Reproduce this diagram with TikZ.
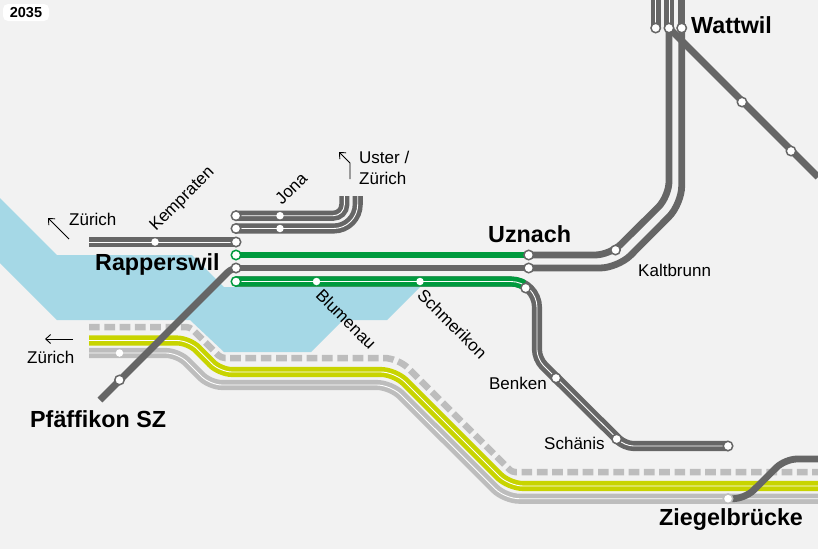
\documentclass[tikz,border=0pt]{standalone}
\usepackage{fontspec}
\setmainfont{Liberation Sans}
\usetikzlibrary{arrows.meta,backgrounds}
\definecolor{mapBack}{HTML}{F2F2F2}
\definecolor{mapLake}{HTML}{A5D8E6}
\definecolor{mapDark}{HTML}{666666}
\definecolor{mapLight}{HTML}{BDBDBD}
\definecolor{mapGreen}{HTML}{009A3E}
\definecolor{mapYellow}{HTML}{C8D400}

\begin{document}
\begin{tikzpicture}[
  x=1pt, y=-1pt,
  solidline/.style={draw=#1, line width=6.8pt},
  twinline/.style={draw=#1, double=white, line width=4.6pt, double distance=0.9pt},
  dashline/.style={draw=mapLight, line width=6.5pt, dash pattern=on 10.7pt off 4.6pt},
  halt/.style={circle, fill=white, draw=#1, line width=1.5pt, minimum size=9.5pt, inner sep=0pt},
  halt/.default=mapDark,
  stop/.style={circle, fill=white, minimum size=7.5pt, inner sep=0pt},
  town/.style={font=\fontsize{23.3}{25}\selectfont\bfseries, inner sep=0pt},
  place/.style={font=\fontsize{17}{21}\selectfont, inner sep=0pt, align=left},
  hint/.style={-{Straight Barb[length=5pt,width=9pt]}, line width=0.9pt, black},
]
\useasboundingbox (0,0) rectangle (818,549);

% === Year tag ===
\node[fill=white, rounded corners=5pt, minimum width=46pt, minimum height=17pt, inner sep=0pt,
  font=\fontsize{14.5}{15}\selectfont\bfseries] (year) at (26,12.5) {2035};

% === Stations ===
\node[halt] (kemprEnd) at (236,242) {};
\node[stop] (kempr) at (155,242) {};
\node[halt] (jonaA) at (236,215.7) {};
\node[stop] (jonaAm) at (280,215.7) {};
\node[halt] (jonaB) at (236,228.5) {};
\node[stop] (jonaBm) at (280,228.5) {};
\node[halt=mapGreen] (rapA) at (236,255) {};
\node[halt] (rapB) at (236,268) {};
\node[halt=mapGreen] (rapC) at (236,281.5) {};
\node[stop] (blume) at (316.5,281.5) {};
\node[stop] (schme) at (420,281.5) {};
\node[halt] (uzA) at (528.7,255) {};
\node[halt] (uzB) at (528.7,268) {};
\node[halt] (uzC) at (525.7,288) {};
\node[halt] (kalt) at (615.5,250) {};
\node[halt] (watA) at (655.7,28) {};
\node[halt] (watB) at (669,28) {};
\node[halt] (watC) at (681.7,28) {};
\node[halt] (ebnat) at (742,102) {};
\node[halt] (ulis) at (791,151) {};
\node[halt] (benken) at (556,378) {};
\node[halt] (schaen) at (616.7,439) {};
\node[halt] (schaenEnd) at (728,446) {};
\node[halt] (pfaef) at (119.5,380) {};
\node[stop] (lachen) at (119.5,353) {};
\node[halt=mapLight] (ziegel) at (728,498.7) {};

% === Lake and lines, behind the stations ===
\begin{scope}[on background layer]
  \fill[mapBack] (0,0) rectangle (818,549);
  \fill[mapLake] (0,198) -- (57,255) -- (192,255) -- (224,287) -- (420,287) -- (387,320)
    -- (343,320) -- (311,352) -- (224,352) -- (190,320) -- (57,320) -- (0,263) -- cycle;

  % north side of Rapperswil
  \draw[twinline=mapDark] (89,242) -- (kemprEnd.center);
  \draw[twinline=mapDark, rounded corners=11pt] (jonaA.center) -- (344.3,215.7) -- (344.3,196);
  \draw[twinline=mapDark, rounded corners=24pt] (jonaB.center) -- (357.7,228.5) -- (357.7,196);

  % Rapperswil to Uznach and on to Wattwil
  \draw[solidline=mapGreen] (rapA.center) -- (uzA.center);
  \draw[solidline=mapDark] (rapB.center) -- (uzB.center);
  \draw[solidline=mapDark, rounded corners=15pt] (uzA.center) -- (610,255) -- (669,196.5) -- (watB.center);
  \draw[solidline=mapDark, rounded corners=18pt] (uzB.center) -- (618,268) -- (681.7,204) -- (watC.center);
  \draw[twinline=mapDark] (watA.center) -- (655.7,0);
  \draw[twinline=mapDark] (watB.center) -- (669,0);
  \draw[solidline=mapDark] (watC.center) -- (681.7,0);
  \draw[solidline=mapDark] (watB.center) -- (818,177);

  % lower lines along the lake
  \draw[dashline, rounded corners=4pt] (89,327) -- (190,327) -- (221,358)
    [rounded corners=14pt] -- (398,358) [rounded corners=3pt] -- (512,472) -- (818,472);
  \draw[twinline=mapLight, rounded corners=12pt] (89,353) -- (178,353) -- (210,385)
    [rounded corners=14pt] -- (391,385) -- (505,498.7) -- (818,498.7);
  \draw[twinline=mapYellow, rounded corners=12pt] (89,340.5) -- (189,340.5) -- (220,372)
    [rounded corners=14pt] -- (395,372) -- (509,486) -- (818,486);

  % Schmerikon branch, green up to the curve
  \draw[twinline=mapDark, rounded corners=26pt] (rapC.center) -- (537,281.5)
    [rounded corners=9pt] -- (537,359) -- (624.5,446) -- (schaenEnd.center);
  \begin{scope}
    \clip (230,270) rectangle (uzC.center);
    \draw[twinline=mapGreen, rounded corners=26pt] (rapC.center) -- (537,281.5) -- (537,359);
  \end{scope}

  % crossing lines on top
  \draw[solidline=mapDark, rounded corners=6pt] (rapB.center) -- (232,268) -- (100,400);
  \draw[solidline=mapDark, rounded corners=12pt] (ziegel.center) -- (745,498.7) -- (785,459) -- (818,459);
\end{scope}

% === Places ===
\node[town, anchor=west] (rapName) at (95,264) {Rapperswil};
\node[town, anchor=west] (uzName) at (488,234) {Uznach};
\node[town, anchor=west] (watName) at (691,25) {Wattwil};
\node[town, anchor=west] (pfName) at (30,419) {Pfäffikon SZ};
\node[town, anchor=west] (ziName) at (659,520) {Ziegelbrücke};

\node[place, anchor=west, rotate=45] (kemprName) at (153,229) {Kempraten};
\node[place, anchor=west, rotate=45] (jonaName) at (278,202) {Jona};
\node[place, anchor=west, rotate=-45] (blumeName) at (319,292) {Blumenau};
\node[place, anchor=west, rotate=-45] (schmeName) at (420.5,292) {Schmerikon};
\node[place, anchor=west] (kaltName) at (638,270) {Kaltbrunn};
\node[place, anchor=east] (benkenName) at (547,383) {Benken};
\node[place, anchor=west] (schaenName) at (544,443) {Schänis};

% === Onward hints ===
\node[place, anchor=west] (zuA) at (69,219.5) {Zürich};
\node[place, anchor=west] (zuB) at (27,357) {Zürich};
\node[place, anchor=north west] (uster) at (359,151) {Uster /\\Zürich};
\coordinate (zuAfrom) at (69,239);
\coordinate (zuAto) at (48,218);
\coordinate (zuBfrom) at (73,339);
\coordinate (zuBto) at (45,339);
\coordinate (usFrom) at (350,179);
\coordinate (usBend) at (350,163);
\coordinate (usTo) at (339,152);
\draw[hint] (zuAfrom) -- (zuAto);
\draw[hint] (zuBfrom) -- (zuBto);
\draw[hint] (usFrom) -- (usBend) -- (usTo);
\end{tikzpicture}
\end{document}
